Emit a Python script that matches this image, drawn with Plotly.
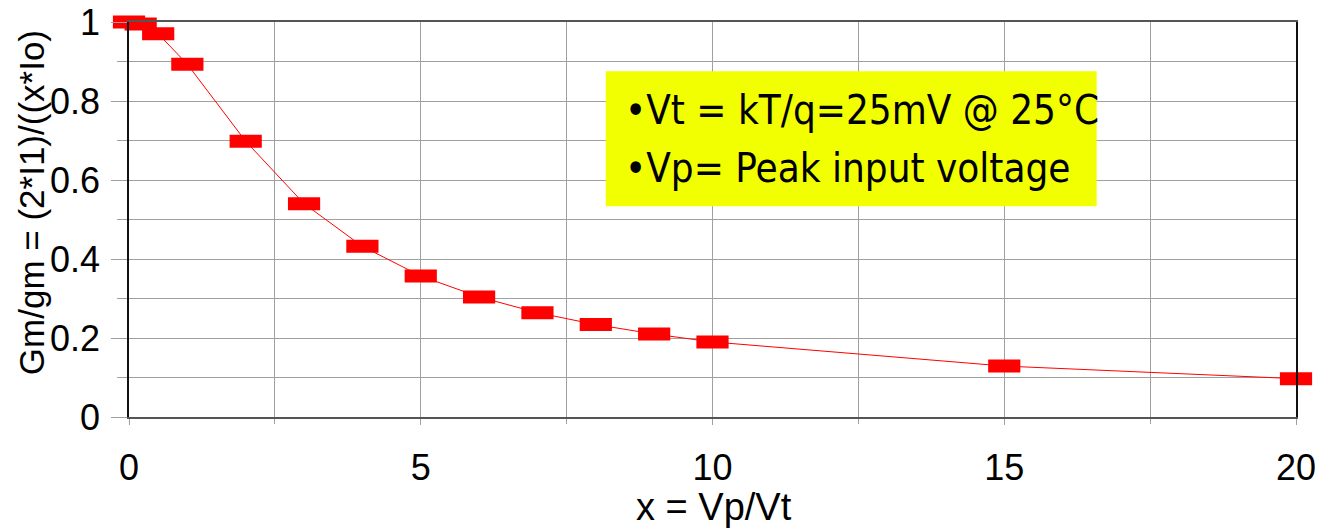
import plotly.graph_objects as go

# Data
x_vals = [0, 0.2, 0.5, 1, 2, 3, 4, 5, 6, 7, 8, 9, 10, 15, 20]
gm_ratio = [1.0, 0.995, 0.970, 0.893, 0.698, 0.540, 0.432, 0.357, 0.304,
            0.264, 0.234, 0.210, 0.190, 0.129, 0.097]
x_ticks = [0, 5, 10, 15, 20]
y_ticks = [0, 0.2, 0.4, 0.6, 0.8, 1]
y_tick_text = ["0", "0.2", "0.4", "0.6", "0.8", "1"]
note_lines = ["•Vt = kT/q=25mV @ 25°C", "•Vp= Peak input voltage"]
x_title = "x = Vp/Vt"
y_title = "Gm/gm = (2*I1)/((x*Io)"

AXFONT = "Liberation Sans, Arial, sans-serif"
NOTEFONT = "DejaVu Sans Condensed, DejaVu Sans, sans-serif"
GRID = "#a0a0a0"

fig = go.Figure()
fig.add_trace(go.Scatter(
    x=x_vals, y=gm_ratio, mode="lines+markers",
    line=dict(color="#ff0000", width=1),
    marker=dict(symbol="line-ew", size=23, color="#ff0000",
                line=dict(color="#ff0000", width=13)),
    cliponaxis=False, showlegend=False,
))

fig.update_layout(
    width=1319, height=531,
    margin=dict(l=129, r=23, t=22, b=114),
    paper_bgcolor="white", plot_bgcolor="white",
    font=dict(family=AXFONT, size=36, color="black"),
    xaxis=dict(
        range=[0, 20], tickvals=x_ticks, ticktext=[str(v) for v in x_ticks],
        ticks="outside", ticklen=6, tickcolor=GRID, tickwidth=1,
        showgrid=True, gridcolor=GRID, gridwidth=1,
        minor=dict(dtick=2.5, tick0=0, ticks="outside", ticklen=5, tickcolor=GRID,
                   showgrid=True, gridcolor=GRID, gridwidth=1),
        showline=True, linecolor="#555555", linewidth=1.5, mirror=True,
        zeroline=False, tickfont=dict(size=36), ticklabelstandoff=12,
        automargin=False,
    ),
    yaxis=dict(
        range=[0, 1], tickvals=y_ticks, ticktext=y_tick_text,
        ticks="outside", ticklen=16, tickcolor=GRID, tickwidth=1,
        showgrid=True, gridcolor=GRID, gridwidth=1,
        minor=dict(dtick=0.1, tick0=0, ticks="outside", ticklen=10, tickcolor=GRID,
                   showgrid=True, gridcolor=GRID, gridwidth=1),
        showline=True, linecolor="#111111", linewidth=1.5, mirror=True,
        zeroline=False, tickfont=dict(size=36), ticklabelstandoff=4,
        automargin=False,
    ),
    shapes=[dict(type="rect", xref="paper", yref="paper",
                 x0=0.4085, x1=0.8292, y0=0.5334, y1=0.8752,
                 fillcolor="#f2ff00", line=dict(width=0), layer="above")],
    annotations=[
        dict(text=note_lines[0], xref="paper", yref="paper", x=0.423, y=0.777,
             xanchor="left", yanchor="middle", showarrow=False,
             font=dict(family=NOTEFONT, size=40, color="black")),
        dict(text=note_lines[1], xref="paper", yref="paper", x=0.423, y=0.630,
             xanchor="left", yanchor="middle", showarrow=False,
             font=dict(family=NOTEFONT, size=40, color="black")),
        dict(text=x_title, xref="paper", yref="paper", x=0.5017, y=-0.228,
             xanchor="center", yanchor="middle", showarrow=False,
             font=dict(family=AXFONT, size=38, color="black")),
        dict(text=y_title, xref="paper", yref="paper", x=-0.0834, y=0.543,
             xanchor="center", yanchor="middle", showarrow=False, textangle=-90,
             font=dict(family=AXFONT, size=35, color="black")),
    ],
)

fig.write_html("out.html")
